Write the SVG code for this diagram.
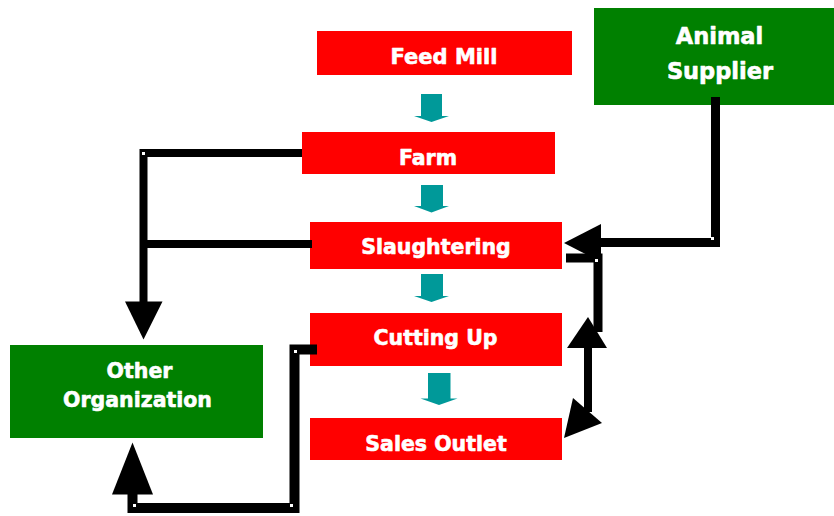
<svg xmlns="http://www.w3.org/2000/svg" width="834" height="516" viewBox="0 0 834 516">
<style>
.red{fill:#ff0000}
.green{fill:#008000}
.lbl{fill:#ffffff;stroke:#ffffff;stroke-width:0.6px;stroke-linejoin:round;font-family:"DejaVu Sans",Verdana,sans-serif;font-weight:bold;font-size:20.5px;text-anchor:middle}
.flow{fill:#009999}
.ln{fill:none;stroke:#000;stroke-width:8;stroke-linejoin:miter}
.hd{fill:#000}
.dot{fill:#fff}
</style>
<rect width="834" height="516" fill="#fff"/>
<g id="feed-mill"><rect class="red" x="317" y="31" width="255" height="44"/><text class="lbl" x="444" y="64" style="font-size:21px">Feed Mill</text></g>
<g id="farm"><rect class="red" x="302" y="132" width="253" height="42"/><text class="lbl" x="428" y="165">Farm</text></g>
<g id="slaughtering"><rect class="red" x="310" y="222" width="252" height="47"/><text class="lbl" x="436" y="254">Slaughtering</text></g>
<g id="cutting-up"><rect class="red" x="310" y="313" width="252" height="53"/><text class="lbl" x="435.5" y="345">Cutting Up</text></g>
<g id="sales-outlet"><rect class="red" x="310" y="418" width="252" height="42"/><text class="lbl" x="436" y="450.5">Sales Outlet</text></g>
<g id="animal-supplier"><rect class="green" x="594" y="8" width="240" height="97"/><text class="lbl" style="font-size:22.5px" x="719.5" y="44">Animal</text><text class="lbl" style="font-size:22.5px" x="720" y="79">Supplier</text></g>
<g id="other-organization"><rect class="green" x="10" y="345" width="253" height="93"/><text class="lbl" x="139.5" y="377.5">Other</text><text class="lbl" x="137.5" y="406.5">Organization</text></g>
<g id="flow-arrows">
<path class="flow" d="M421,94H442V116H449L431.5,122L414,116H421Z"/>
<path class="flow" d="M421,185H443V206H449L431.5,212.5L414,206H421Z"/>
<path class="flow" d="M421,274H443V296H449L431.5,302L414,296H421Z"/>
<path class="flow" d="M428,373H450.5V398.5H457.5L439,405L420.5,398.5H428Z"/>
</g>
<g id="connectors">
<path class="ln" d="M302,153H143.5V302"/>
<path class="ln" d="M312,244H143.5"/>
<polygon class="hd" points="125,301.5 162.5,301.5 143.5,339.5"/>
<rect class="dot" x="142" y="152" width="3" height="3"/>
<path class="ln" style="stroke-width:9" d="M715.5,97V242.5H600"/>
<polygon class="hd" points="564,243 601,224 601,262"/>
<rect class="dot" x="711" y="237" width="3" height="3"/>
<path class="ln" style="stroke-width:9" d="M566,258H598V332"/>
<rect class="dot" x="595" y="259" width="3" height="3"/>
<path class="ln" d="M588,347V412"/>
<polygon class="hd" points="588,317 567,348 607,348"/>
<polygon class="hd" points="564,438 573,398 602,423"/>
<path class="ln" style="stroke-width:10" d="M317,349.5H294.5V508H132.5V493"/>
<polygon class="hd" points="132.5,442.5 112,494.5 153,494.5"/>
<rect class="dot" x="294" y="350" width="3" height="3"/>
<rect class="dot" x="133" y="504" width="3" height="3"/>
<rect class="dot" x="290" y="504" width="3" height="3"/>
</g>
</svg>
